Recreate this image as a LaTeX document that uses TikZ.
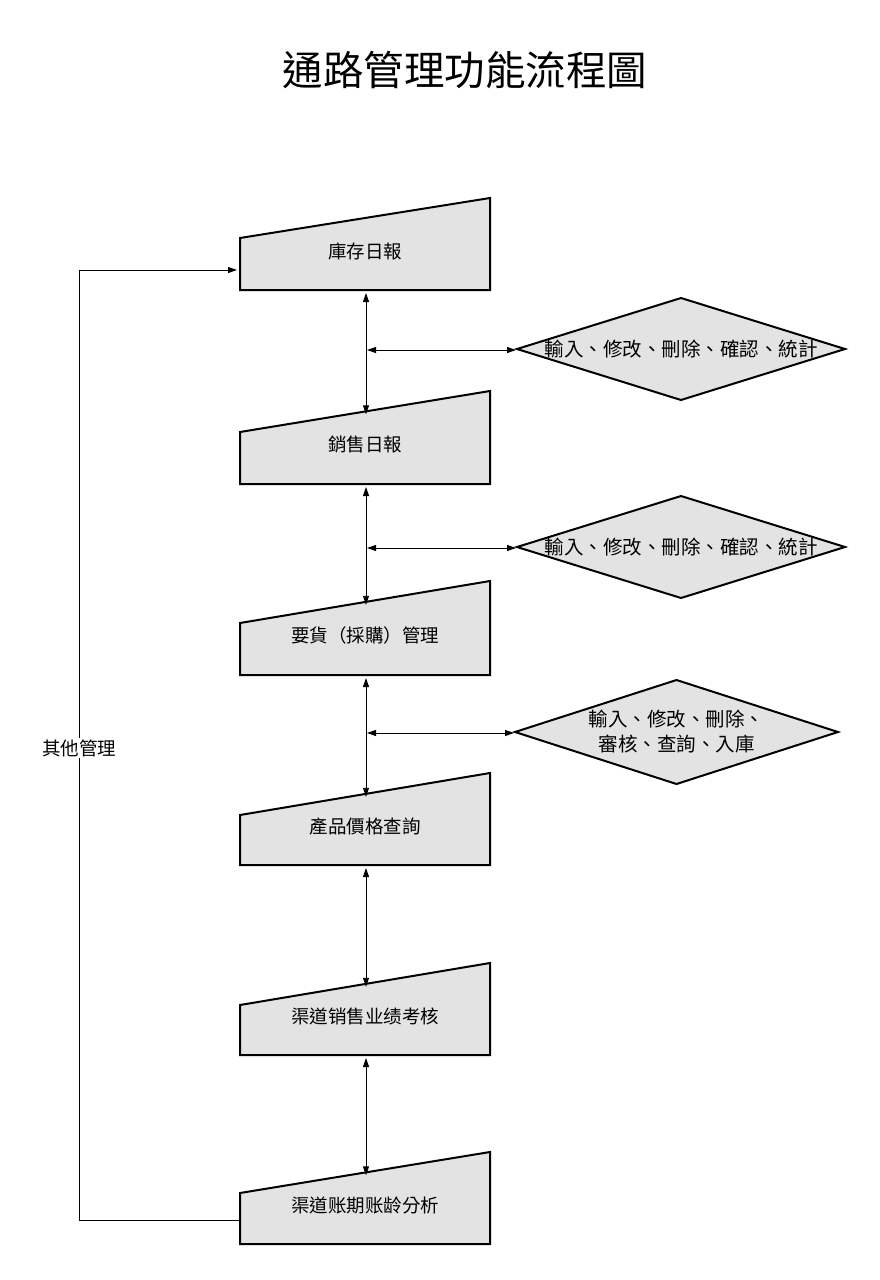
\documentclass[tikz,border=0pt]{standalone}
\usepackage{fontspec}
\setmainfont{Noto Sans CJK TC}
\usetikzlibrary{arrows.meta}
\begin{document}
\begin{tikzpicture}[x=1pt,y=-1pt,
  box/.style={draw=black,line width=2pt,fill=black!11,line join=miter},
  lbl/.style={font=\fontsize{18.5}{22}\selectfont,align=center},
  arr/.style={{Triangle[length=9pt,width=6pt]}-{Triangle[length=9pt,width=6pt]},line width=0.9pt},
  one/.style={-{Triangle[length=9pt,width=6pt]},line width=0.9pt}]
\useasboundingbox (0,0) rectangle (880,1280);
\node[font=\fontsize{40.5}{46}\selectfont] (title) at (465,70) {通路管理功能流程圖};
\foreach \n/\tl/\tr/\b/\t in {b1/238/198/290/庫存日報, b2/432/391/484/銷售日報, b3/623/581/675/要貨（採購）管理, b4/815/773/865/產品價格查詢, b5/1005/963/1055/渠道销售业绩考核, b6/1193/1152/1244/渠道账期账龄分析}{
  \draw[box] (240,\tl) -- (490,\tr) -- (490,\b) -- (240,\b) -- cycle;
  \node[lbl] (\n) at (365,{(\tl+\tr)/4+\b/2-3}) {\t};
  \coordinate (\n top) at (366,{\tl-(\tl-\tr)*126/250+3});
  \coordinate (\n bot) at (366,\b+3);
}
\foreach \a/\c in {b1/b2,b2/b3,b3/b4,b4/b5,b5/b6}{\draw[arr] (\a bot) -- (\c top);}
\foreach \n/\l/\r/\cy/\h/\t in {d1/517/845/349/51/輸入、修改、刪除、確認、統計, d2/517/845/547/51/輸入、修改、刪除、確認、統計, d3/515/838/732/52/{輸入、修改、刪除、\\審核、查詢、入庫}}{
  \draw[box] (\l,\cy) -- ({(\l+\r)/2},\cy-\h) -- (\r,\cy) -- ({(\l+\r)/2},\cy+\h) -- cycle;
  \node[lbl,font=\fontsize{19.5}{25}\selectfont] (\n) at ({(\l+\r)/2},\cy) {\t};
  \coordinate (\n L) at (\l-1,\cy+1);
  \coordinate (\n S) at (367,\cy+1);
}
\foreach \n in {d1,d2,d3}{\draw[arr] (\n S) -- (\n L);}
\coordinate (l1) at (239,1220);
\coordinate (l2) at (79,1220);
\coordinate (l3) at (79,270);
\coordinate (l4) at (237,270);
\draw[one] (l1) -- (l2) -- (l3) -- (l4);
\node[lbl,fill=white,inner sep=1pt] (other) at (79,748) {其他管理};
\end{tikzpicture}
\end{document}
